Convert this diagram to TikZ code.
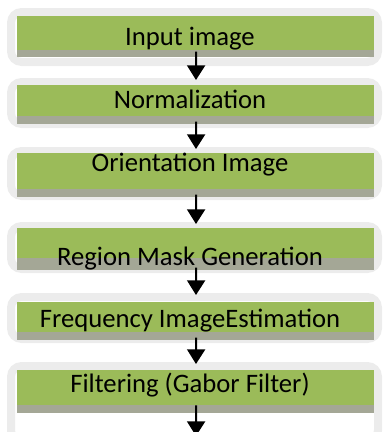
\documentclass[tikz,border=0pt]{standalone}
\usepackage{fontspec}
\setmainfont{Carlito}
\usetikzlibrary{arrows.meta}
\definecolor{stepgreen}{HTML}{9BBB59}
\definecolor{stepshade}{HTML}{A4A796}
\definecolor{framegray}{HTML}{ECECEC}
\tikzset{
  frame/.style={draw=framegray, line width=6pt, rounded corners=8pt, fill=white},
  greenbox/.style={fill=stepgreen, inner sep=0pt, minimum width=267.75pt},
  shadebox/.style={fill=stepshade, inner sep=0pt, minimum width=267.75pt},
  lbl/.style={font=\fontsize{20}{22}\selectfont, inner sep=0pt, anchor=base},
  flow/.style={-{Triangle[width=13.5pt,length=11pt]}, line width=1.5pt, black}
}
\begin{document}
\begin{tikzpicture}[x=0.75pt, y=-0.75pt]
  \useasboundingbox (0,0) rectangle (384,432);
  \clip (0,0) rectangle (384,432);
  % boxes: name / frame top / green top / green bottom / shade bottom / frame bottom / baseline / text
  \foreach \n/\ft/\gt/\gb/\sb/\fb/\ty/\txt in {%
      inp/8/16/50/57/66/45/Input image,%
      nrm/78/85/116/124/128/108/Normalization,%
      ori/147/153/189/197/200/171/Orientation Image,%
      reg/222/228/258/270/273/265/Region Mask Generation,%
      frq/293/302/332/340/343/327/Frequency ImageEstimation,%
      flt/362/370/405/413/445/392/Filtering (Gabor Filter)} {
      \draw[frame] (11,\ft+4) rectangle (378,\fb-4);
      \coordinate (\n-top) at (196,\ft+2);
      \node[shadebox, minimum height={(\sb-\gt)*0.75pt}] (\n-sh) at (195.5,{(\gt+\sb)/2}) {};
      \node[greenbox, minimum height={(\gb-\gt)*0.75pt}] (\n) at (195.5,{(\gt+\gb)/2}) {};
      \node[lbl] (\n-txt) at (190,\ty) {\txt};
    }
  \coordinate (end) at (196,436);
  % connectors
  \draw[flow] ([xshift=0.5pt,yshift=-1pt]inp.south) -- (nrm-top);
  \draw[flow] ([xshift=0.5pt,yshift=-4pt]nrm.south) -- (ori-top);
  \draw[flow] ([xshift=0.5pt,yshift=-4pt]ori.south) -- (reg-top);
  \draw[flow] ([xshift=0.5pt,yshift=-7pt]reg.south) -- (frq-top);
  \draw[flow] ([xshift=0.5pt,yshift=-4pt]frq.south) -- (flt-top);
  \draw[flow] ([xshift=0.5pt]flt.south) -- (end);
\end{tikzpicture}
\end{document}
